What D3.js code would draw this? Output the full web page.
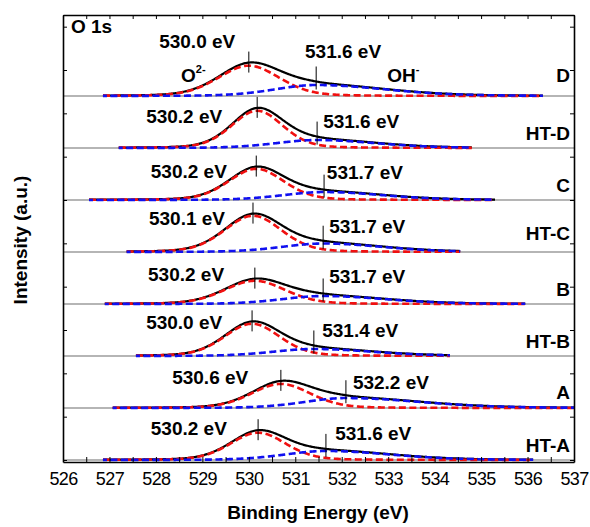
<!DOCTYPE html>
<html>
<head>
<meta charset="utf-8">
<script src="https://cdn.jsdelivr.net/npm/d3@7"></script>
<style>
    body { margin: 0; background: #fff; }
    svg { display: block; font-family: "Liberation Sans", Arial, sans-serif; }
</style>
</head>
<body>
<div id="chart"></div>
<script>
// vzorky od shora dolu
const samples = ["D", "HT-D", "C", "HT-C", "B", "HT-B", "A", "HT-A"];
const o2Labels = ["530.0 eV", "530.2 eV", "530.2 eV", "530.1 eV", "530.2 eV", "530.0 eV", "530.6 eV", "530.2 eV"];
const ohLabels = ["531.6 eV", "531.6 eV", "531.7 eV", "531.7 eV", "531.7 eV", "531.4 eV", "532.2 eV", "531.6 eV"];

// fitted O2- component (lattice oxygen): centre eV, height counts, FWHM eV
const o2Center = [530.0, 530.18, 530.16, 530.09, 530.13, 530.07, 530.69, 530.2];
const o2Height = [3500, 4300, 3600, 4180, 2680, 3720, 2780, 3150];
const o2Fwhm = [1.55, 1.3, 1.4, 1.45, 1.55, 1.4, 1.5, 1.4];

// fitted OH- component, a bit asymmetric (low / high BE side)
const ohCenter = [531.45, 531.47, 531.62, 531.6, 531.6, 531.4, 532.09, 531.66];
const ohHeight = [1270, 920, 920, 980, 920, 810, 1150, 1040];
const ohFwhmLow = [2.1, 2.1, 2.1, 2.1, 2.1, 2.1, 2.1, 2.1];
const ohFwhmHigh = [3.5, 3.0, 3.0, 3.0, 3.2, 3.0, 3.8, 3.3];

// fit window of each spectrum (eV)
const fitStart = [526.86, 527.2, 526.56, 527.37, 526.9, 527.57, 527.07, 526.86];
const fitEnd = [536.33, 534.8, 535.3, 534.55, 535.95, 534.33, 537.0, 536.12];

const glMix = 0.2;       // GL(20) line shape
const stackStep = 6000;  // posun spekter nad sebou

// where the peak labels sit (eV, counts above the spectrum)
const o2LabelX = [528.07, 527.79, 527.89, 527.85, 527.83, 527.79, 528.35, 527.89];
const o2LabelY = [5540, 2885, 2540, 3115, 2600, 3115, 2770, 2885];
const ohLabelX = [531.21, 531.6, 531.68, 531.73, 531.73, 531.58, 532.24, 531.86];
const ohLabelY = [4385, 2310, 2420, 2190, 2370, 2190, 2190, 2310];
const nameY = [1620, 920, 920, 1390, 980, 920, 1040, 920];

const xMinor = d3.range(526, 537.01, 0.5);
const yTicks = d3.range(0, 51001, 5000);

const width = 590;
const height = 527;

const x = d3.scaleLinear().domain([526, 537]).range([63, 574]);
const y = d3.scaleLinear().domain([-230, 51347]).range([462, 15]);

const svg = d3.select("#chart")
    .append("svg")
    .attr("width", width)
    .attr("height", height);

// pseudo-Voigt peak
function glPeak(e, c, h, wLo, wHi) {
    const w = e < c ? wLo : wHi;
    const t = 4 * (e - c) * (e - c) / (w * w);
    return h * ((1 - glMix) * Math.exp(-Math.LN2 * t) + glMix / (1 + t));
}

const line = d3.line()
    .x(d => x(d[0]))
    .y(d => y(d[1]));

const plot = svg.append("g");

samples.forEach((name, i) => {
    const base = (samples.length - 1 - i) * stackStep;
    const grid = d3.range(fitStart[i], fitEnd[i], 0.02).concat([fitEnd[i]]);

    const o2 = e => glPeak(e, o2Center[i], o2Height[i], o2Fwhm[i], o2Fwhm[i]);
    const oh = e => glPeak(e, ohCenter[i], ohHeight[i], ohFwhmLow[i], ohFwhmHigh[i]);
    const env = e => o2(e) + oh(e);

    // seda cara pozadi pres celou sirku
    plot.append("path")
        .attr("d", line([[526, base], [537, base]]))
        .attr("fill", "none")
        .attr("stroke", "#9c9c9c")
        .attr("stroke-width", 1.6);

    plot.append("path")
        .attr("d", line(grid.map(e => [e, base + env(e)])))
        .attr("fill", "none")
        .attr("stroke", "#000")
        .attr("stroke-width", 2.2);

    plot.append("path")
        .attr("d", line(grid.map(e => [e, base + o2(e)])))
        .attr("fill", "none")
        .attr("stroke", "#f01010")
        .attr("stroke-width", 2.6)
        .attr("stroke-dasharray", "7,3.5");

    plot.append("path")
        .attr("d", line(grid.map(e => [e, base + oh(e)])))
        .attr("fill", "none")
        .attr("stroke", "#1010f0")
        .attr("stroke-width", 2.6)
        .attr("stroke-dasharray", "7,3.5")
        .attr("stroke-dashoffset", 3);

    // znacky poloh piku
    const c1 = o2Center[i], c2 = ohCenter[i];
    plot.append("line")
        .attr("x1", x(c1)).attr("x2", x(c1))
        .attr("y1", y(base + env(c1)) - 11)
        .attr("y2", y(base + env(c1)) + 10)
        .attr("stroke", "#000").attr("stroke-width", 1);
    plot.append("line")
        .attr("x1", x(c2)).attr("x2", x(c2))
        .attr("y1", y(base + env(c2)) - 15)
        .attr("y2", y(base + env(c2)) + 8)
        .attr("stroke", "#000").attr("stroke-width", 1);

    plot.append("text")
        .attr("x", x(o2LabelX[i]))
        .attr("y", y(base + o2LabelY[i]))
        .attr("font-size", 19).attr("font-weight", "bold")
        .text(o2Labels[i]);
    plot.append("text")
        .attr("x", x(ohLabelX[i]))
        .attr("y", y(base + ohLabelY[i]))
        .attr("font-size", 19).attr("font-weight", "bold")
        .text(ohLabels[i]);

    plot.append("text")
        .attr("x", 570)
        .attr("y", y(base + nameY[i]))
        .attr("text-anchor", "end")
        .attr("font-size", 19).attr("font-weight", "bold")
        .text(name);
});

// popisky slozek v hornim spektru
const topBase = (samples.length - 1) * stackStep;
const o2Text = plot.append("text")
    .attr("x", x(528.54)).attr("y", y(topBase + 1620))
    .attr("font-size", 19).attr("font-weight", "bold");
o2Text.append("tspan").text("O");
o2Text.append("tspan").attr("font-size", 11).attr("dy", -9).text("2-");

const ohText = plot.append("text")
    .attr("x", x(532.98)).attr("y", y(topBase + 1620))
    .attr("font-size", 19).attr("font-weight", "bold");
ohText.append("tspan").text("OH");
ohText.append("tspan").attr("font-size", 11).attr("dy", -9).text("-");

svg.append("text")
    .attr("x", 71).attr("y", 33)
    .attr("font-size", 19).attr("font-weight", "bold")
    .text("O 1s");

// osy, ticky dovnitr
const axisBottom = d3.axisBottom(x)
    .tickValues(xMinor)
    .tickSize(-5).tickSizeOuter(0).tickPadding(10)
    .tickFormat(d => d % 1 === 0 ? d : "");
const axisTop = d3.axisTop(x).tickValues(xMinor).tickSize(-4).tickSizeOuter(0).tickFormat("");
const axisLeft = d3.axisLeft(y).tickValues(yTicks).tickSize(-4).tickSizeOuter(0).tickFormat("");
const axisRight = d3.axisRight(y).tickValues(yTicks).tickSize(-4).tickSizeOuter(0).tickFormat("");

const gb = svg.append("g").attr("transform", "translate(0,462)").call(axisBottom);
gb.selectAll("text")
    .attr("font-size", 18)
    .attr("font-family", "Liberation Sans, Arial, sans-serif")
    .attr("letter-spacing", -0.6)
    .attr("fill", "#000");
svg.append("g").attr("transform", "translate(0,15)").call(axisTop);
svg.append("g").attr("transform", "translate(63,0)").call(axisLeft);
svg.append("g").attr("transform", "translate(574,0)").call(axisRight);

svg.selectAll(".domain").attr("stroke", "#000").attr("stroke-width", 1.6);
svg.selectAll(".tick line").attr("stroke", "#000").attr("stroke-width", 1);

svg.append("text")
    .attr("x", 318).attr("y", 519)
    .attr("text-anchor", "middle")
    .attr("font-size", 19).attr("font-weight", "bold")
    .text("Binding Energy (eV)");

svg.append("text")
    .attr("transform", "translate(27,240) rotate(-90)")
    .attr("text-anchor", "middle")
    .attr("font-size", 19).attr("font-weight", "bold")
    .text("Intensity (a.u.)");
</script>
</body>
</html>
